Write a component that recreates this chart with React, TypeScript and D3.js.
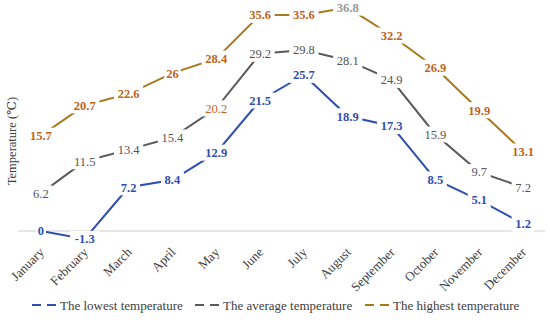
import React, { useRef, useEffect } from 'react';
import * as d3 from 'd3';

const months = ['January', 'February', 'March', 'April', 'May', 'June', 'July', 'August', 'September', 'October', 'November', 'December'];
const lowest = [0, -1.3, 7.2, 8.4, 12.9, 21.5, 25.7, 18.9, 17.3, 8.5, 5.1, 1.2];
const average = [6.2, 11.5, 13.4, 15.4, 20.2, 29.2, 29.8, 28.1, 24.9, 15.9, 9.7, 7.2];
const highest = [15.7, 20.7, 22.6, 26, 28.4, 35.6, 35.6, 36.8, 32.2, 26.9, 19.9, 13.1];

const series = [
  { name: 'The lowest temperature', values: lowest, line: '#2f4fb0', label: '#2f4fb0', weight: 600 },
  { name: 'The average temperature', values: average, line: '#5a5a5a', label: '#555555', weight: 400 },
  { name: 'The highest temperature', values: highest, line: '#a87a1c', label: '#bf6319', weight: 600 },
];

const App = () => {
  const svgRef = useRef(null);

  useEffect(() => {
    const width = 550;
    const height = 325;
    const font = '"Liberation Serif", "DejaVu Serif", serif';

    const svg = d3.select(svgRef.current)
      .attr('width', width)
      .attr('height', height)
      .style('font-family', font);
    svg.selectAll('*').remove();

    const x = d3.scaleBand()
      .domain(months)
      .range([19, 545]);

    const y = d3.scaleLinear()
      .domain([0, 36.8])
      .range([231, 7.6]);

    const cx = d => x(d) + x.bandwidth() / 2;

    // zero line
    svg.append('line')
      .attr('x1', 18)
      .attr('x2', 545)
      .attr('y1', y(0))
      .attr('y2', y(0))
      .attr('stroke', '#dedede')
      .attr('stroke-width', 1.5);

    const line = d3.line()
      .x((d, i) => cx(months[i]))
      .y(d => y(d));

    series.forEach(s => {
      svg.append('path')
        .datum(s.values)
        .attr('d', line)
        .attr('fill', 'none')
        .attr('stroke', s.line)
        .attr('stroke-width', 2);
    });

    series.forEach((s, si) => {
      const g = svg.append('g');
      s.values.forEach((v, i) => {
        let color = s.label;
        if (si === 1 && i === 4) color = '#c8631a';
        if (si === 2 && i === 7) color = '#9a9a9a';
        const txt = String(v);
        const w = txt.length * 6.3 + 4;
        g.append('rect')
          .attr('x', cx(months[i]) - w / 2)
          .attr('y', y(v) - 8)
          .attr('width', w)
          .attr('height', 16)
          .attr('fill', 'white');
        g.append('text')
          .attr('x', cx(months[i]))
          .attr('y', y(v))
          .attr('dy', '0.35em')
          .attr('text-anchor', 'middle')
          .attr('font-size', 12.5)
          .attr('font-weight', s.weight)
          .attr('fill', color)
          .text(txt);
      });
    });

    // x labels
    svg.append('g')
      .selectAll('text')
      .data(months)
      .enter().append('text')
      .attr('transform', d => `translate(${cx(d) + 4}, 253) rotate(-45)`)
      .attr('text-anchor', 'end')
      .attr('font-size', 13)
      .attr('fill', '#404040')
      .text(d => d);

    // y title
    svg.append('text')
      .attr('transform', 'translate(16, 141) rotate(-90)')
      .attr('text-anchor', 'middle')
      .attr('font-size', 12.5)
      .attr('fill', '#404040')
      .text('Temperature (℃)');

    // legend
    const legendX = [32, 195, 365];
    series.forEach((s, i) => {
      const g = svg.append('g').attr('transform', `translate(${legendX[i]}, 305)`);
      g.append('line')
        .attr('x1', 0)
        .attr('x2', 26)
        .attr('y1', 0)
        .attr('y2', 0)
        .attr('stroke', s.line)
        .attr('stroke-width', 2)
        .attr('stroke-dasharray', '9,6');
      g.append('text')
        .attr('x', 28)
        .attr('y', 0)
        .attr('dy', '0.35em')
        .attr('font-size', 13)
        .attr('fill', '#404040')
        .text(s.name);
    });
  }, []);

  return <svg ref={svgRef} style={{ position: 'absolute', left: 0, top: 0 }}></svg>;
};

export default App;
